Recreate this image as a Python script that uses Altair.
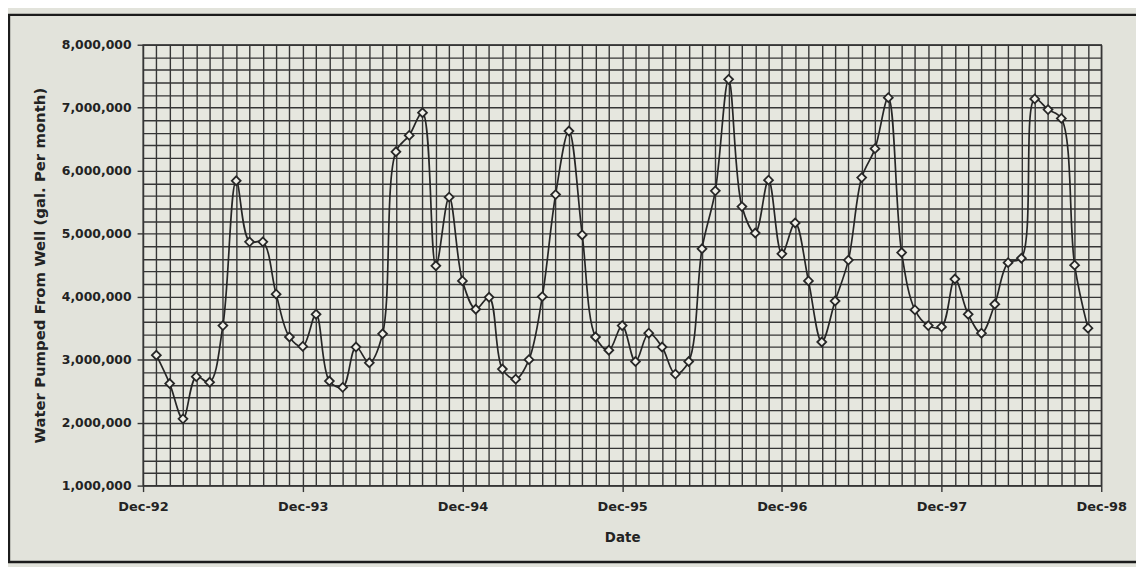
import json
import altair as alt
import pandas as pd

# Monthly water pumped from the well (gallons per month), Jan-93 .. Nov-98
pumped_1993 = [3070000, 2620000, 2060000, 2730000, 2640000, 3540000,
               5840000, 4870000, 4870000, 4040000, 3360000, 3210000]
pumped_1994 = [3720000, 2660000, 2560000, 3200000, 2950000, 3410000,
               6300000, 6560000, 6920000, 4490000, 5580000, 4250000]
pumped_1995 = [3800000, 3990000, 2850000, 2690000, 3000000, 4000000,
               5620000, 6630000, 4980000, 3360000, 3150000, 3540000]
pumped_1996 = [2970000, 3420000, 3200000, 2770000, 2970000, 4760000,
               5680000, 7450000, 5430000, 5010000, 5850000, 4680000]
pumped_1997 = [5170000, 4250000, 3280000, 3930000, 4580000, 5890000,
               6350000, 7160000, 4700000, 3790000, 3540000, 3520000]
pumped_1998 = [4280000, 3720000, 3420000, 3880000, 4540000, 4610000,
               7140000, 6970000, 6830000, 4500000, 3500000]

tick_labels = ["Dec-92", "Dec-93", "Dec-94", "Dec-95", "Dec-96", "Dec-97", "Dec-98"]

pumped = pumped_1993 + pumped_1994 + pumped_1995 + pumped_1996 + pumped_1997 + pumped_1998
month_number = list(range(1, len(pumped) + 1))  # months after Dec-92
df = pd.DataFrame({"month": month_number, "gallons": pumped})

x_grid = list(range(0, 12 * (len(tick_labels) - 1) + 1))
y_grid = list(range(1_000_000, 8_000_001, 200_000))

FONT = "DejaVu Sans"
TEXT = "#232323"
GRID = "#363636"

x_axis = alt.Axis(
    values=x_grid,
    labelExpr=f"datum.value % 12 == 0 ? {json.dumps(tick_labels)}[datum.value / 12] : ''",
    labelOverlap=False, labelBound=False, labelFlush=False,
    grid=True, gridColor=GRID, gridWidth=1.4, gridOpacity=1,
    domain=False,
    tickSize=6, tickColor=GRID, tickWidth=1.4,
    tickOpacity={"condition": {"test": "datum.value % 12 == 0", "value": 1}, "value": 0},
    labelFont=FONT, labelFontSize=13, labelFontWeight="bold", labelColor=TEXT,
    labelPadding=9,
    title="Date", titleFont=FONT, titleFontSize=13.5, titleFontWeight="bold",
    titleColor=TEXT, titlePadding=17,
)

y_axis = alt.Axis(
    values=y_grid,
    labelExpr="datum.value % 1000000 == 0 ? format(datum.value, ',') : ''",
    labelOverlap=False, labelBound=False,
    grid=True, gridColor=GRID, gridWidth=1.4, gridOpacity=1,
    domain=False,
    tickSize=6, tickColor=GRID, tickWidth=1.4,
    tickOpacity={"condition": {"test": "datum.value % 1000000 == 0", "value": 1}, "value": 0},
    labelFont=FONT, labelFontSize=12.5, labelFontWeight="bold", labelColor=TEXT,
    labelPadding=6,
    title="Water Pumped From Well (gal. Per month)", titleFont=FONT,
    titleFontSize=15, titleFontWeight="bold", titleColor=TEXT, titlePadding=14,
)

x_enc = alt.X("month:Q", scale=alt.Scale(domain=[0, 72], nice=False, zero=False), axis=x_axis)
y_enc = alt.Y("gallons:Q", scale=alt.Scale(domain=[1_000_000, 8_000_000], nice=False, zero=False), axis=y_axis)

frame = alt.Chart(pd.DataFrame({"k": [0]})).mark_rect(
    fillOpacity=0, stroke="#1c1c1c", strokeWidth=2.4
).encode(
    x=alt.value(-135), x2=alt.value(1010), y=alt.value(-30), y2=alt.value(521)
)

line = alt.Chart(df).mark_line(
    interpolate="catmull-rom", color="#262626", strokeWidth=1.7
).encode(x=x_enc, y=y_enc)

points = alt.Chart(df).mark_point(
    shape="diamond", size=80, filled=True, fill="#f1f1ea", stroke="#262626",
    strokeWidth=1.8, opacity=1
).encode(x=x_enc, y=y_enc)

chart = alt.layer(frame, line, points).properties(
    width=965, height=444,
    autosize=alt.AutoSizeParams(type="none"),
    padding={"left": 136, "top": 35, "right": 35, "bottom": 80},
    background="#e2e3db",
).configure_view(
    stroke=GRID, strokeWidth=1.4, fill="#e6e7df"
)

chart.save("out.html", embed_options={"renderer": "svg", "actions": False})
